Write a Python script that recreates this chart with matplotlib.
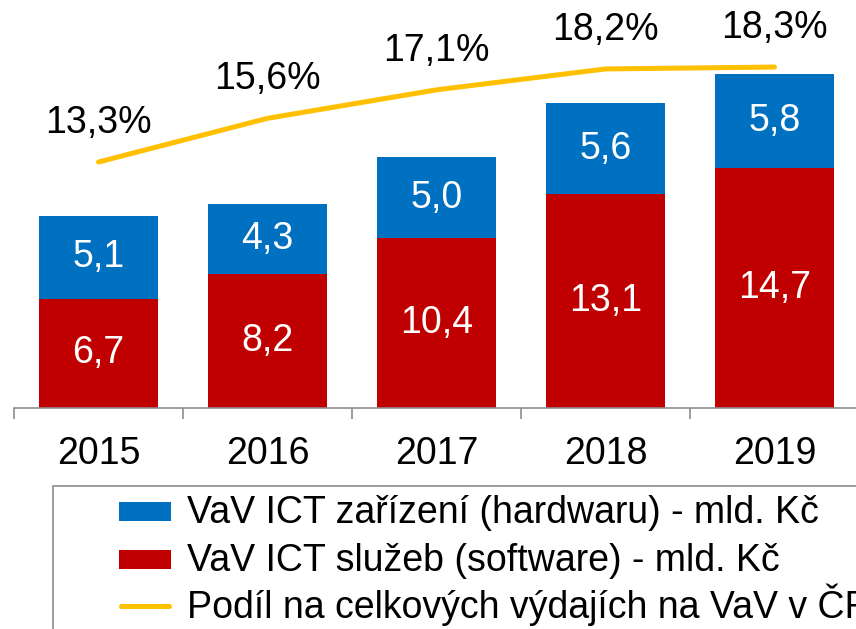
import matplotlib.pyplot as plt
from matplotlib.patches import Rectangle
from matplotlib.lines import Line2D
import numpy as np

years = ["2015", "2016", "2017", "2018", "2019"]
software = [6.7, 8.2, 10.4, 13.1, 14.7]
hardware = [5.1, 4.3, 5.0, 5.6, 5.8]
share_pct = [13.3, 15.6, 17.1, 18.2, 18.3]

legend_labels = [
    "VaV ICT zařízení (hardwaru) - mld. Kč",
    "VaV ICT služeb (software) - mld. Kč",
    "Podíl na celkových výdajích na VaV v ČR",
]

BLUE = "#0070C0"
RED = "#C00000"
GOLD = "#FFC000"
AXIS_GRAY = "#8C8C8C"
FS = 27

plt.rcParams["font.family"] = ["Liberation Sans", "DejaVu Sans"]

W, H = 856, 629
fig = plt.figure(figsize=(W / 100, H / 100), dpi=100)
ax = fig.add_axes([14 / W, 1 - 408 / H, 845 / W, 408 / H])
ax2 = ax.twinx()

x = np.arange(len(years))
bw = 0.71

ax.bar(x, software, width=bw, color=RED, zorder=2)
ax.bar(x, hardware, width=bw, bottom=software, color=BLUE, zorder=2)


def fmt(v):
    return f"{v:.1f}".replace(".", ",")


for xi, s, h in zip(x, software, hardware):
    ax.text(xi, s / 2, fmt(s), ha="center", va="center", color="white", fontsize=FS)
    ax.text(xi, s + h / 2, fmt(h), ha="center", va="center", color="white", fontsize=FS)

ax.set_xlim(-0.5, len(years) - 0.5)
ax.set_ylim(0, 25.03)
ax2.set_ylim(0.35, 21.83)

ax2.plot(x, share_pct, color=GOLD, lw=3.6, solid_capstyle="round",
         solid_joinstyle="round", zorder=3)

for xi, p in zip(x, share_pct):
    ax2.annotate(fmt(p) + "%", (xi, p), xytext=(0, 28), textcoords="offset points",
                 ha="center", va="center", fontsize=FS, color="black")

for a in (ax, ax2):
    for sp in ("top", "right", "left"):
        a.spines[sp].set_visible(False)
    a.set_yticks([])
ax2.spines["bottom"].set_visible(False)
ax.spines["bottom"].set_color(AXIS_GRAY)
ax.spines["bottom"].set_linewidth(1.2)

ax.set_xticks(np.arange(-0.5, len(years), 1.0))
ax.set_xticklabels([])
ax.tick_params(axis="x", which="major", length=8, width=1.2, color=AXIS_GRAY, direction="out")
ax.set_xticks(x, minor=True)
ax.set_xticklabels(years, minor=True, fontsize=FS)
ax.tick_params(axis="x", which="minor", length=0, pad=20)

# legend box: frame runs past the right and bottom edges of the figure
def fx(px):
    return px / W


def fy(py):
    return 1 - py / H


fig.add_artist(Rectangle((fx(53), -0.2), 1.0, fy(486) + 0.2, transform=fig.transFigure,
                         facecolor="none", edgecolor=AXIS_GRAY, lw=1.2, zorder=1))

baselines = [523, 571, 618]
handle_kinds = [("patch", BLUE), ("patch", RED), ("line", GOLD)]
for (kind, color), label, base in zip(handle_kinds, legend_labels, baselines):
    mid = base - 12
    if kind == "patch":
        fig.add_artist(Rectangle((fx(119), fy(mid + 9.5)), 52 / W, 19 / H,
                                 transform=fig.transFigure, facecolor=color,
                                 edgecolor="none"))
    else:
        fig.add_artist(Line2D([fx(121), fx(169)], [fy(mid), fy(mid)],
                              transform=fig.transFigure, color=color, lw=3.6,
                              solid_capstyle="round"))
    fig.text(fx(187), fy(base), label, ha="left", va="baseline", fontsize=FS)

fig.savefig("out.png", dpi=100)
